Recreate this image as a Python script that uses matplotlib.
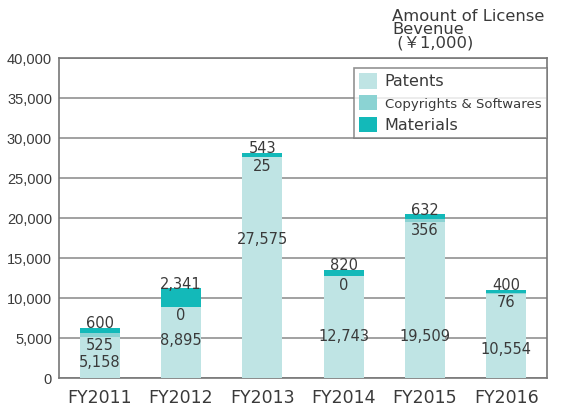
import matplotlib.pyplot as plt
import numpy as np

plt.rcParams['font.family'] = ['DejaVu Sans', 'Noto Sans CJK JP']

years = ['FY2011', 'FY2012', 'FY2013', 'FY2014', 'FY2015', 'FY2016']
patents = [5158, 8895, 27575, 12743, 19509, 10554]
copyrights = [525, 0, 25, 0, 356, 76]
materials = [600, 2341, 543, 820, 632, 400]
# where the patents label sits
patent_label_y = [2000, 4700, 17300, 5200, 5200, 3600]

c_pat = '#bfe4e4'
c_copy = '#8bd3d3'
c_mat = '#13b9b9'
txt = '#3a3a3a'
grid_c = '#9a9a9a'

fig = plt.figure(figsize=(5.62, 4.08), dpi=100)
ax = fig.add_axes([0.105, 0.0735, 0.8683, 0.7843])

x = np.arange(len(years))
pat = np.array(patents)
cop = np.array(copyrights)
mat = np.array(materials)

ax.bar(x, pat, 0.49, color=c_pat, label='Patents', zorder=3)
ax.bar(x, cop, 0.49, bottom=pat, color=c_copy, label='Copyrights & Softwares', zorder=3)
ax.bar(x, mat, 0.49, bottom=pat + cop, color=c_mat, label='Materials', zorder=3)

for i in range(len(years)):
    ax.text(x[i], patent_label_y[i], f'{patents[i]:,}', ha='center', va='center',
            fontsize=10.5, color=txt, zorder=4)
    ax.annotate(f'{copyrights[i]:,}', (x[i], pat[i]), xytext=(0, -9), textcoords='offset pixels',
                ha='center', va='center', fontsize=10.5, color=txt, zorder=4)
    ax.annotate(f'{materials[i]:,}', (x[i], pat[i] + cop[i] + mat[i]), xytext=(0, 4),
                textcoords='offset pixels', ha='center', va='center', fontsize=10.5, color=txt, zorder=4)

ax.set_xlim(-0.5, 5.5)
ax.set_ylim(0, 40000)
ax.set_yticks(range(0, 40001, 5000))
ax.set_yticklabels([f'{v:,}' for v in range(0, 40001, 5000)],
                   family='Liberation Sans', fontsize=10.5, color=txt)
ax.set_xticks(x)
ax.set_xticklabels(years, fontsize=12.5, color=txt)
ax.tick_params(axis='both', length=0)
ax.tick_params(axis='x', pad=8)
ax.tick_params(axis='y', pad=5)
ax.yaxis.grid(True, color=grid_c, linewidth=1.3, zorder=0)
for s in ax.spines.values():
    s.set_color('#777777')
    s.set_linewidth(1.2)

leg = ax.legend(loc='upper right', bbox_to_anchor=(1.0, 0.97), borderaxespad=0, frameon=True,
                fancybox=False, fontsize=11.5, handlelength=1.1, handleheight=1.1, handletextpad=0.5,
                labelspacing=0.35, borderpad=0.35, labelcolor=txt)
leg.get_frame().set_edgecolor('#777777')
leg.get_frame().set_linewidth(1.2)
leg.get_texts()[1].set_fontsize(9.5)

fig.text(0.698, 0.978, 'Amount of License\nBevenue\n (￥1,000)', ha='left', va='top',
         fontsize=11.8, color=txt, linespacing=0.85)

fig.savefig('out.png', dpi=100)
